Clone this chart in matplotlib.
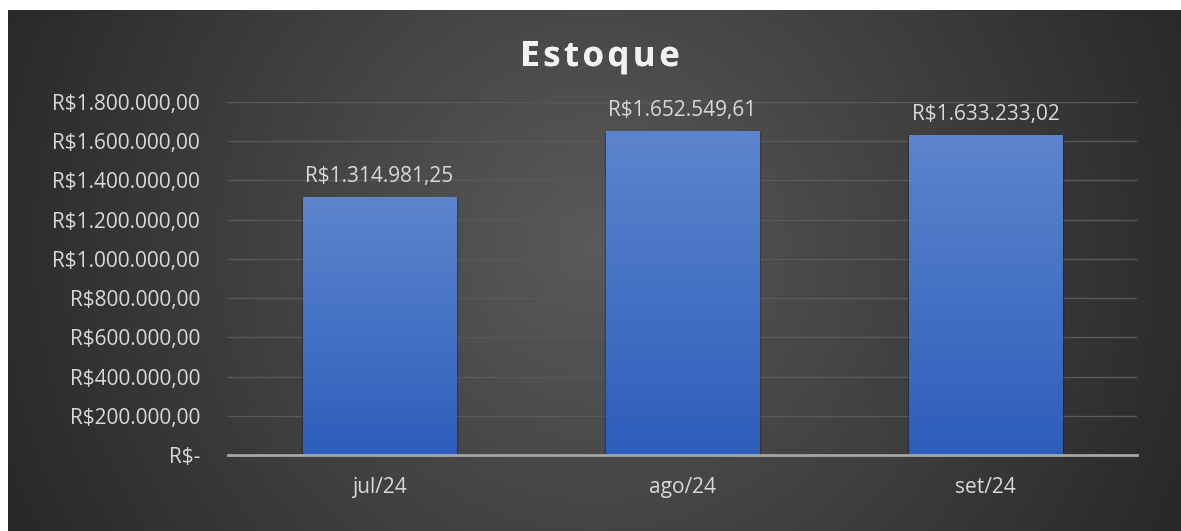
import numpy as np
import matplotlib.pyplot as plt
from matplotlib.patches import Rectangle
import matplotlib.patheffects as pe

# Data
meses = ["jul/24", "ago/24", "set/24"]
estoque = [1314981.25, 1652549.61, 1633233.02]
yticks = [0, 200000, 400000, 600000, 800000, 1000000, 1200000, 1400000, 1600000, 1800000]
titulo = "Estoque"


def brl(v):
    if v == 0:
        return "R$-"
    s = f"{v:,.2f}"
    s = s.replace(",", "X").replace(".", ",").replace("X", ".")
    return "R$" + s


plt.rcParams['font.family'] = ['Open Sans', 'DejaVu Sans']

W, H = 1181, 531
fig = plt.figure(figsize=(W / 100, H / 100), dpi=100)
fig.patch.set_facecolor("white")

# radial gradient background (Excel dark style)
bg = fig.add_axes([8 / W, 0, 1 - 8 / W, 1 - 10 / H])
bg.set_axis_off()
h, w = 521, 1173
yy, xx = np.mgrid[0:h, 0:w]
cx, cy = w * 0.5, h * 0.45
r = np.sqrt(((xx - cx) / (w * 0.62)) ** 2 + ((yy - cy) / (w * 0.62)) ** 2)
r = np.clip(r, 0, 1)
c0 = np.array([0x5a, 0x5a, 0x5a]) / 255
c1 = np.array([0x22, 0x22, 0x22]) / 255
img = c0[None, None, :] * (1 - r[..., None]) + c1[None, None, :] * r[..., None]
bg.imshow(img, aspect="auto", extent=[0, 1, 0, 1], origin="upper")
bg.set_xlim(0, 1)
bg.set_ylim(0, 1)

ax = fig.add_axes([228 / W, 1 - 455 / H, (1137 - 228) / W, (455 - 102) / H])
ax.patch.set_alpha(0)

x = np.arange(len(meses))
bars = ax.bar(x, estoque, width=0.505, color="#3d6cc4", zorder=3)

# vertical gradient + soft shadow on each bar
grad = np.linspace(0, 1, 256)[:, None]
top = np.array([0x5d, 0x85, 0xcd]) / 255
bot = np.array([0x2d, 0x5e, 0xbb]) / 255
gimg = top[None, None, :] * (1 - grad[..., None]) + bot[None, None, :] * grad[..., None]
for b in bars:
    bx, bw, bh = b.get_x(), b.get_width(), b.get_height()
    for k, a in enumerate([0.10, 0.08, 0.06]):
        d = 0.002 * (k + 1)
        sh = Rectangle((bx - d, 0), bw + 2 * d + 0.004, bh - 4000 * (k + 1), color="black",
                       alpha=a, zorder=2, lw=0)
        ax.add_patch(sh)
    im = ax.imshow(gimg, extent=[bx, bx + bw, 0, bh], aspect="auto", zorder=3.5, origin="upper")
    im.set_clip_path(b)

for xi, v in zip(x, estoque):
    ax.annotate(brl(v), (xi, v), xytext=(0, 7), textcoords="offset points",
                ha="center", va="bottom", color="#d9d9d9", fontsize=15)

ax.set_xlim(-0.5, 2.5)
ax.set_ylim(0, 1800000)
ax.set_yticks(yticks)
ax.set_yticklabels([brl(v) for v in yticks])
ax.set_xticks(x)
ax.set_xticklabels(meses)
ax.tick_params(axis="both", length=0, colors="#d9d9d9", labelsize=15)
ax.tick_params(axis="y", pad=20)
ax.tick_params(axis="x", pad=16)
ax.grid(axis="y", color="#595959", lw=1, zorder=0)
for s in ["top", "right", "left"]:
    ax.spines[s].set_visible(False)
ax.spines["bottom"].set_color("#a6a6a6")
ax.spines["bottom"].set_linewidth(2)
ax.spines["bottom"].set_zorder(5)

# title with letter spacing
renderer = fig.canvas.get_renderer()
spacing = 3.5
parts = []
total = 0
for ch in titulo:
    t = fig.text(0, 0, ch, fontsize=25, fontweight="bold", color="#f2f2f2")
    cw = t.get_window_extent(renderer).width
    parts.append((t, cw))
    total += cw
total += spacing * (len(titulo) - 1)
xpos = 600 - total / 2
for t, cw in parts:
    t.set_position((xpos / W, 1 - 57 / H))
    t.set_va("center")
    t.set_path_effects([pe.withSimplePatchShadow(offset=(1, -1.5), alpha=0.5), pe.Normal()])
    xpos += cw + spacing

fig.savefig("out.png", dpi=100, facecolor=fig.get_facecolor())
